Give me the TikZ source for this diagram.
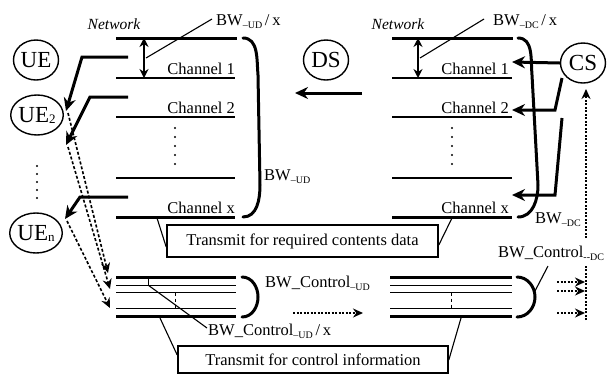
\documentclass[tikz,border=0pt]{standalone}
\usepackage{fontspec}
\setmainfont{Liberation Serif}
\usetikzlibrary{arrows.meta,shapes.geometric}
\newcommand\subsc[1]{\raisebox{-0.45ex}{\fontsize{10}{10}\selectfont #1}}
\newcommand\uesub[1]{\raisebox{-0.1ex}{\fontsize{13}{13}\selectfont #1}}
\begin{document}
\begin{tikzpicture}[x=1pt,y=-1pt,
  txt/.style={font=\fontsize{16.5}{18}\selectfont, inner sep=0pt},
  nettxt/.style={font=\fontsize{15.5}{17}\selectfont\itshape, inner sep=0pt},
  ent/.style={draw, ellipse, line width=1.4pt, minimum width=45pt, minimum height=40pt, inner sep=0pt, font=\fontsize{23}{24}\selectfont},
  thickl/.style={line width=3pt},
  medl/.style={line width=2pt},
  thinl/.style={line width=1pt},
  brk/.style={line width=3pt, line cap=round},
  bigarrow/.style={line width=3pt, -{Stealth[length=13pt,width=12pt]}},
  dasharrow/.style={line width=1.6pt, dash pattern=on 3pt off 2pt, -{Stealth[length=10pt,width=9pt]}},
  dotarrow/.style={line width=1.6pt, dash pattern=on 2pt off 1.5pt, -{Stealth[length=10pt,width=9pt]}},
  bidir/.style={line width=1.6pt, {Stealth[length=9pt,width=9pt]}-{Stealth[length=9pt,width=9pt]}},
  callout/.style={line width=1.1pt},
  boxed/.style={draw, line width=1.6pt, inner sep=0pt, font=\fontsize{16.5}{18}\selectfont},
  dotc/.style={circle, fill, inner sep=0pt, minimum size=2.2pt}
]
\useasboundingbox (0,0) rectangle (607,376);

% ---------- entities ----------
\node[ent] (ue)  at (36,60)  {UE};
\node[ent] (ue2) at (37,115) {UE\uesub{2}};
\node[ent] (uen) at (36,233) {UE\uesub{n}};
\node[ent] (ds)  at (326,60) {DS};
\node[ent] (cs)  at (583,63) {CS};
\foreach \y [count=\i] in {166,174,182,190,198} \node[dotc] (ued\i) at (37,\y) {};

% ---------- left network block ----------
\node[nettxt] (netl) at (114,24) {Network};
\draw[thickl] (116,38) -- (237,38);
\draw[medl] (116,78) -- (235,78);
\draw[medl] (116,117) -- (235,117);
\draw[medl] (116,178) -- (235,178);
\draw[thickl] (116,217) -- (235,217);
\node[txt, anchor=base east] (l1) at (235,74) {Channel 1};
\node[txt, anchor=base east] (l2) at (235,113) {Channel 2};
\node[txt, anchor=base east] (lx) at (235,213) {Channel x};
\foreach \y [count=\i] in {128,137,146,155,164} \node[dotc] (ld\i) at (175,\y) {};
\draw[brk] (243,38) to[out=0,in=95] (258,75) -- (260,185) to[out=-90,in=0] (243,217);
\coordinate (lbt) at (144,38); \coordinate (lbb) at (144,78);
\draw[bidir] (lbt) -- (lbb);
\node[txt, anchor=base west] (bwudx) at (216,25) {BW\subsc{--UD}\,/\,x};
\coordinate (lco) at (146,58);
\draw[callout] (lco) -- (212,19);
\node[txt, anchor=base west] (bwud) at (264,180) {BW\subsc{--UD}};

% ---------- right network block ----------
\node[nettxt] (netr) at (398,24) {Network};
\draw[thickl] (392,38) -- (513,38);
\draw[medl] (392,78) -- (512,78);
\draw[medl] (392,117) -- (512,117);
\draw[medl] (392,178) -- (512,178);
\draw[thickl] (392,217) -- (512,217);
\node[txt, anchor=base east] (r1) at (509,74) {Channel 1};
\node[txt, anchor=base east] (r2) at (509,113) {Channel 2};
\node[txt, anchor=base east] (rx) at (509,213) {Channel x};
\foreach \y [count=\i] in {128,137,146,155,164} \node[dotc] (rd\i) at (452,\y) {};
\draw[brk] (518,38) to[out=0,in=95] (532,75) -- (538,185) to[out=-90,in=0] (518,217);
\coordinate (rbt) at (418,38); \coordinate (rbb) at (418,78);
\draw[bidir] (rbt) -- (rbb);
\node[txt, anchor=base west] (bwdcx) at (493,25) {BW\subsc{--DC}\,/\,x};
\coordinate (rco) at (420,58);
\draw[callout] (rco) -- (484,19);
\node[txt, anchor=base west] (bwdc) at (535,223) {BW\subsc{--DC}};

% ---------- arrows to UEs ----------
\coordinate (a1s) at (128,57); \coordinate (a1b) at (82,57); \coordinate (a1e) at (66,111);
\coordinate (a2s) at (128,97); \coordinate (a2b) at (90,97); \coordinate (a2e) at (66,145);
\coordinate (a3s) at (128,197); \coordinate (a3b) at (80,197); \coordinate (a3e) at (65,219);
\draw[bigarrow] (a1s) -- (a1b) -- (a1e);
\draw[bigarrow] (a2s) -- (a2b) -- (a2e);
\draw[bigarrow] (a3s) -- (a3b) -- (a3e);

% DS arrow
\coordinate (dss) at (362,93); \coordinate (dse) at (295,93);
\draw[bigarrow] (dss) -- (dse);

% ---------- arrows from CS ----------
\coordinate (c1e) at (512,62);
\draw[bigarrow] (cs.west) -- (c1e);
\coordinate (c2s) at (562,78); \coordinate (c2b) at (555,110); \coordinate (c2e) at (512,110);
\draw[bigarrow] (c2s) -- (c2b) -- (c2e);
\coordinate (c3s) at (562,118); \coordinate (c3b) at (555,195); \coordinate (c3e) at (512,195);
\draw[bigarrow] (c3s) -- (c3b) -- (c3e);

% dotted feedback to CS
\coordinate (fb1) at (586,320); \coordinate (fb2) at (586,266);
\coordinate (fb3) at (586,238); \coordinate (fb4) at (586,89);
\draw[line width=1.6pt, dash pattern=on 2pt off 1.5pt] (fb1) -- (fb2);
\draw[dotarrow] (fb3) -- (fb4);

% ---------- dashed arrows UE -> control ----------
\coordinate (dA1) at (68,113); \coordinate (dA2) at (108,273);
\coordinate (dB1) at (68,147); \coordinate (dB2) at (110,289);
\coordinate (dC1) at (67,221); \coordinate (dC2) at (110,308);
\draw[dasharrow] (dA1) -- (dA2);
\draw[dasharrow] (dB1) -- (dB2);
\draw[dasharrow] (dC1) -- (dC2);

% ---------- left control block ----------
\draw[thickl] (116,277) -- (236,277);
\draw[thinl] (116,285) -- (236,285);
\draw[thinl] (116,292.5) -- (236,292.5);
\draw[thinl] (116,308.5) -- (236,308.5);
\draw[thickl] (116,316.5) -- (236,316.5);
\draw[thinl] (148,277) -- (148,285);
\draw[thinl, dashed] (175,292.5) -- (175,308.5);
\draw[brk] (242,277) to[out=0,in=90] (258,297) to[out=-90,in=0] (242,317);
\node[txt, anchor=base west] (bwcud) at (265,287) {BW\_Control\subsc{--UD}};
\node[txt, anchor=base west] (bwcudx) at (208,335) {BW\_Control\subsc{--UD}\,/\,x};
\coordinate (cco) at (148,285);
\draw[callout] (cco) -- (207,328);
\coordinate (mds) at (293,313); \coordinate (mde) at (363,313);
\draw[dotarrow] (mds) -- (mde);

% ---------- right control block ----------
\draw[thickl] (390,277) -- (512,277);
\draw[thinl] (390,285) -- (512,285);
\draw[thinl] (390,292.5) -- (512,292.5);
\draw[thinl] (390,308.5) -- (512,308.5);
\draw[thickl] (390,316.5) -- (512,316.5);
\draw[thinl, dashed] (451,292.5) -- (451,308.5);
\draw[brk] (517,277) to[out=0,in=90] (535,297) to[out=-90,in=0] (517,317);
\node[txt, anchor=base west] (bwcdc) at (498,257) {BW\_Control\subsc{-{}-DC}};
\coordinate (rcc) at (535,291);
\draw[callout] (rcc) -- (548,266);
\coordinate (o1s) at (557,282); \coordinate (o1e) at (585,282);
\coordinate (o2s) at (557,291); \coordinate (o2e) at (585,291);
\coordinate (o3s) at (557,313); \coordinate (o3e) at (585,313);
\draw[dotarrow] (o1s) -- (o1e);
\draw[dotarrow] (o2s) -- (o2e);
\draw[dotarrow] (o3s) -- (o3e);

% ---------- boxes ----------
\node[boxed, minimum width=271pt, minimum height=32pt] (box1) at (302.5,241) {Transmit for required contents data};
\coordinate (b1l) at (157,218); \coordinate (b1r) at (452,218);
\draw[callout] (b1l) -- (box1.west |- 0,247);
\draw[callout] (b1r) -- (box1.east |- 0,245);
\node[boxed, minimum width=270pt, minimum height=27pt] (box2) at (313,359.5) {Transmit for control information};
\coordinate (b2l) at (160,318); \coordinate (b2r) at (461,318);
\draw[callout] (b2l) -- (box2.west |- 0,355);
\draw[callout] (b2r) -- (box2.east |- 0,360);
\end{tikzpicture}
\end{document}
